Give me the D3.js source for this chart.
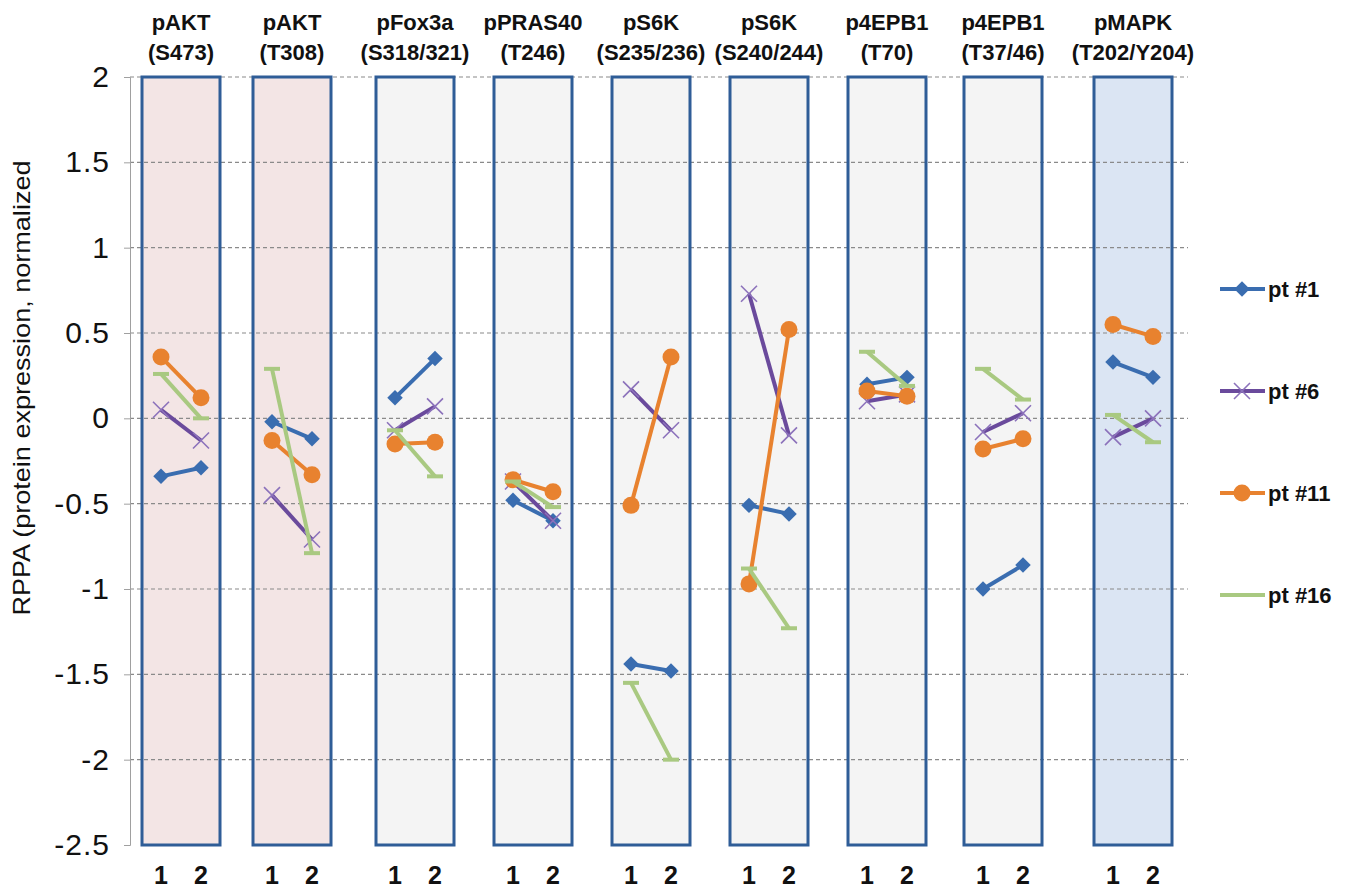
<!DOCTYPE html>
<html>
<head>
<meta charset="utf-8">
<script src="https://cdn.jsdelivr.net/npm/d3@7"></script>
<style>
  body { margin: 0; background: #fff; }
  text { font-family: "Liberation Sans", Arial, sans-serif; }
</style>
</head>
<body>
<div id="chart"></div>
<script>
// proteins (two-line panel titles)
const proteins = ["pAKT", "pAKT", "pFox3a", "pPRAS40", "pS6K", "pS6K", "p4EPB1", "p4EPB1", "pMAPK"];
const sites = ["(S473)", "(T308)", "(S318/321)", "(T246)", "(S235/236)", "(S240/244)", "(T70)", "(T37/46)", "(T202/Y204)"];
const panelGroup = ["akt", "akt", "mtor", "mtor", "mtor", "mtor", "mtor", "mtor", "mapk"];
const timepoints = [1, 2];
const yTicks = [2, 1.5, 1, 0.5, 0, -0.5, -1, -1.5, -2, -2.5];

// values per panel: [time 1, time 2]
const pt1 = [[-0.34, -0.29], [-0.02, -0.12], [0.12, 0.35], [-0.48, -0.60], [-1.44, -1.48], [-0.51, -0.56], [0.20, 0.24], [-1.00, -0.86], [0.33, 0.24]];
const pt6 = [[0.05, -0.13], [-0.45, -0.71], [-0.07, 0.07], [-0.37, -0.60], [0.17, -0.07], [0.73, -0.10], [0.10, 0.14], [-0.08, 0.03], [-0.11, 0.00]];
const pt11 = [[0.36, 0.12], [-0.13, -0.33], [-0.15, -0.14], [-0.36, -0.43], [-0.51, 0.36], [-0.97, 0.52], [0.16, 0.13], [-0.18, -0.12], [0.55, 0.48]];
const pt16 = [[0.26, 0.00], [0.29, -0.79], [-0.07, -0.34], [-0.37, -0.52], [-1.55, -2.00], [-0.88, -1.23], [0.39, 0.19], [0.29, 0.11], [0.02, -0.14]];

const seriesNames = ["pt #1", "pt #6", "pt #11", "pt #16"];
const seriesValues = [pt1, pt6, pt11, pt16];

const width = 1358, height = 890;
const colors = { "pt #1": "#3a6db0", "pt #6": "#6a4a9c", "pt #11": "#e8822f", "pt #16": "#a9c981" };
const markColors = { "pt #1": "#3a6db0", "pt #6": "#8c72bb", "pt #11": "#e8822f", "pt #16": "#a9c981" };
const fills = { akt: "#f3e5e5", mtor: "#f4f4f4", mapk: "#dbe5f3" };

const svg = d3.select("#chart").append("svg")
    .attr("width", width)
    .attr("height", height);

const y = d3.scaleLinear().domain([-2.5, 2]).range([845, 77]);

// panel centres along the x axis
const panel = d3.scaleOrdinal()
    .domain(d3.range(proteins.length))
    .range([181, 292, 415, 533, 651, 769, 887, 1003, 1133]);
const boxW = 78;
const xIn = i => d3.scalePoint().domain(timepoints).range([panel(i) - 20, panel(i) + 20]);

const plotLeft = 130, plotRight = 1188;

// panel boxes (fill)
svg.append("g")
    .selectAll("rect")
    .data(proteins)
    .join("rect")
    .attr("x", (d, i) => panel(i) - boxW / 2)
    .attr("y", y(2))
    .attr("width", boxW)
    .attr("height", y(-2.5) - y(2))
    .attr("fill", (d, i) => fills[panelGroup[i]]);

// gridlines
svg.append("g")
    .selectAll("line")
    .data(yTicks.filter(t => t > -2.5))
    .join("line")
    .attr("x1", plotLeft)
    .attr("x2", plotRight)
    .attr("y1", d => y(d))
    .attr("y2", d => y(d))
    .attr("stroke", "#8a8a8a")
    .attr("stroke-width", 1.2)
    .attr("stroke-dasharray", "4,3");

// panel boxes (outline)
svg.append("g")
    .selectAll("rect")
    .data(proteins)
    .join("rect")
    .attr("x", (d, i) => panel(i) - boxW / 2)
    .attr("y", y(2))
    .attr("width", boxW)
    .attr("height", y(-2.5) - y(2))
    .attr("fill", "none")
    .attr("stroke", "#2f5d97")
    .attr("stroke-width", 3);

// y axis
const yAxis = svg.append("g")
    .attr("transform", `translate(${plotLeft},0)`)
    .call(d3.axisLeft(y).tickValues(yTicks).tickFormat(d => String(d)).tickSize(6).tickPadding(14));
yAxis.select(".domain").attr("stroke", "#a0a0a0");
yAxis.selectAll(".tick line").attr("stroke", "#a0a0a0");
yAxis.selectAll(".tick text")
    .style("font-family", "'Liberation Sans', Arial, sans-serif")
    .style("font-size", "30px")
    .style("letter-spacing", "1px")
    .attr("fill", "#111");

svg.append("text")
    .attr("transform", `translate(30, 388) rotate(-90)`)
    .attr("text-anchor", "middle")
    .attr("textLength", 455)
    .attr("lengthAdjust", "spacingAndGlyphs")
    .style("font-size", "24px")
    .attr("fill", "#111")
    .text("RPPA (protein expression, normalized");

// panel titles
const titles = svg.append("g")
    .attr("text-anchor", "middle")
    .style("font-weight", "bold")
    .style("font-size", "22px")
    .attr("fill", "#111");
titles.selectAll("text.p")
    .data(proteins)
    .join("text")
    .attr("class", "p")
    .attr("x", (d, i) => panel(i))
    .attr("y", 30)
    .text(d => d);
titles.selectAll("text.s")
    .data(sites)
    .join("text")
    .attr("class", "s")
    .attr("x", (d, i) => panel(i))
    .attr("y", 60)
    .text(d => d);

// x labels 1 / 2
svg.append("g")
    .selectAll("g")
    .data(proteins)
    .join("g")
    .each(function (d, i) {
        d3.select(this).selectAll("text")
            .data(timepoints)
            .join("text")
            .attr("x", t => xIn(i)(t))
            .attr("y", 884)
            .attr("text-anchor", "middle")
            .style("font-weight", "bold")
            .style("font-size", "25px")
            .attr("fill", "#111")
            .text(t => t);
    });

// markers
function drawMarker(sel, name) {
    const c = markColors[name];
    if (name === "pt #1") {
        sel.append("path")
            .attr("d", d3.symbol(d3.symbolSquare, 120)())
            .attr("transform", "rotate(45)")
            .attr("fill", c);
    } else if (name === "pt #6") {
        sel.append("path")
            .attr("d", "M-8,-8L8,8M-8,8L8,-8")
            .attr("stroke", c)
            .attr("stroke-width", 1.6)
            .attr("fill", "none");
    } else if (name === "pt #11") {
        sel.append("circle").attr("r", 8.5).attr("fill", c);
    } else {
        sel.append("line")
            .attr("x1", -8).attr("x2", 8)
            .attr("stroke", c)
            .attr("stroke-width", 4);
    }
}

const line = d3.line();

seriesNames.forEach((name, s) => {
    const g = svg.append("g");
    seriesValues[s].forEach((vals, i) => {
        const x = xIn(i);
        const pts = timepoints.map((t, k) => [x(t), y(vals[k])]);
        g.append("path")
            .attr("d", line(pts))
            .attr("fill", "none")
            .attr("stroke", colors[name])
            .attr("stroke-width", 4);
        pts.forEach(p => {
            g.append("g")
                .attr("transform", `translate(${p[0]},${p[1]})`)
                .call(drawMarker, name);
        });
    });
});

// legend
const legend = svg.append("g")
    .selectAll("g")
    .data(seriesNames)
    .join("g")
    .attr("transform", (d, i) => `translate(1220, ${289 + i * 102})`);
legend.append("line")
    .attr("x1", 0).attr("x2", 45)
    .attr("stroke", d => colors[d])
    .attr("stroke-width", 4);
legend.append("g")
    .attr("transform", "translate(22,0)")
    .each(function (d) { drawMarker(d3.select(this), d); });
legend.append("text")
    .attr("x", 48)
    .attr("y", 8)
    .style("font-weight", "bold")
    .style("font-size", "22px")
    .attr("fill", "#111")
    .text(d => d);
</script>
</body>
</html>
